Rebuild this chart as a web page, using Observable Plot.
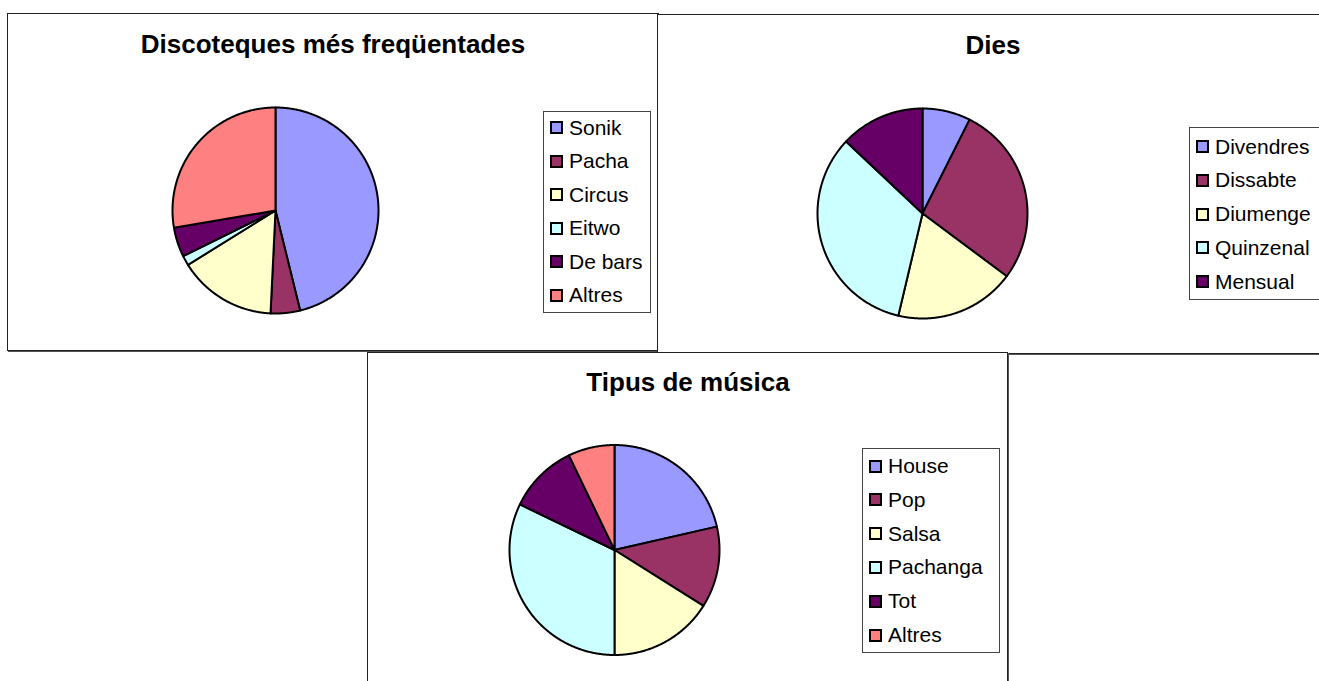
<!DOCTYPE html>
<html>
<head>
<meta charset="utf-8">
<script src="https://cdn.jsdelivr.net/npm/d3@7"></script>
<script src="https://cdn.jsdelivr.net/npm/@observablehq/plot@0.6"></script>
<style>
  html, body { margin: 0; padding: 0; background: #fff; width: 1319px; height: 681px; overflow: hidden; position: relative; }
  body { font-family: "Liberation Sans", Arial, sans-serif; }
  .box { position: absolute; background: #fff; border: 1px solid #222; box-shadow: 1px 1px 0 #555; }
  .box svg { position: absolute; left: 0; top: 0; }
  .title { position: absolute; font-weight: bold; font-size: 26px; line-height: 26px; white-space: nowrap; transform: translateX(-50%); color: #000; }
  .legend { position: absolute; border: 1px solid #444; background: #fff; }
  .row { position: absolute; left: 0; display: flex; align-items: center; font-size: 21px; white-space: nowrap; color: #000; }
  .sw { width: 9px; height: 9px; border: 2px solid #000; margin-left: 6px; margin-right: 6px; flex: none; }
</style>
</head>
<body>
<script>
// ---- data ----
const discoCats = ["Sonik", "Pacha", "Circus", "Eitwo", "De bars", "Altres"];
const discoVals = [30, 3, 10, 1, 3, 18];
const diesCats = ["Divendres", "Dissabte", "Diumenge", "Quinzenal", "Mensual"];
const diesVals = [4, 15, 10, 18, 7];
const musicaCats = ["House", "Pop", "Salsa", "Pachanga", "Tot", "Altres"];
const musicaVals = [12, 7, 9, 18, 6, 4];
const titles = ["Discoteques més freqüentades", "Dies", "Tipus de música"];
const palette = ["#9999FF", "#993366", "#FFFFCC", "#CCFFFF", "#660066", "#FF8080"];

// ---- layout ----
const charts = [
  { cats: discoCats, vals: discoVals, title: titles[0],
    box: { left: 7, top: 13, width: 650, height: 336 },
    pie: { cx: 267, cy: 196, r: 103 },
    titlePos: { x: 325, top: 16.5 },
    legend: { left: 535, top: 97, width: 106, height: 200, first: 15.7, step: 33.5 } },
  { cats: diesCats, vals: diesVals, title: titles[1],
    box: { left: 657, top: 14, width: 700, height: 338 },
    pie: { cx: 264, cy: 198, r: 105 },
    titlePos: { x: 335, top: 17 },
    legend: { left: 531, top: 112, width: 135, height: 171, first: 18.5, step: 33.75 } },
  { cats: musicaCats, vals: musicaVals, title: titles[2],
    box: { left: 367, top: 352, width: 639, height: 400 },
    pie: { cx: 246, cy: 196.5, r: 105 },
    titlePos: { x: 320, top: 16 },
    legend: { left: 494, top: 95, width: 136, height: 203, first: 17, step: 33.8 } }
];

function slicePoints(cats, vals) {
  const arcs = d3.pie().sort(null).value(d => d)(vals);
  const pts = [];
  arcs.forEach((a, i) => {
    const cat = cats[i];
    const n = Math.max(2, Math.ceil((a.endAngle - a.startAngle) / (Math.PI / 360)));
    pts.push({ cat, x: 0, y: 0 });
    for (let j = 0; j <= n; j++) {
      const t = a.startAngle + (a.endAngle - a.startAngle) * j / n;
      pts.push({ cat, x: Math.sin(t), y: Math.cos(t) });
    }
    pts.push({ cat, x: 0, y: 0 });
  });
  return pts;
}

charts.forEach(c => {
  const box = document.createElement("div");
  box.className = "box";
  Object.assign(box.style, {
    left: c.box.left + "px", top: c.box.top + "px",
    width: c.box.width + "px", height: c.box.height + "px"
  });
  document.body.appendChild(box);

  const { cx, cy, r } = c.pie;
  const colors = palette.slice(0, c.cats.length);
  const svg = Plot.plot({
    width: c.box.width,
    height: c.box.height,
    margin: 0,
    x: { domain: [-1, 1], range: [cx - r, cx + r], axis: null },
    y: { domain: [-1, 1], range: [cy + r, cy - r], axis: null },
    color: { type: "ordinal", domain: c.cats, range: colors },
    marks: [
      Plot.line(slicePoints(c.cats, c.vals), {
        x: "x", y: "y", z: "cat", fill: "cat",
        stroke: "black", strokeWidth: 2, strokeLinejoin: "round", curve: "linear"
      })
    ]
  });
  box.appendChild(svg);

  const t = document.createElement("div");
  t.className = "title";
  t.textContent = c.title;
  t.style.left = c.titlePos.x + "px";
  t.style.top = c.titlePos.top + "px";
  box.appendChild(t);

  const lg = document.createElement("div");
  lg.className = "legend";
  Object.assign(lg.style, {
    left: c.legend.left + "px", top: c.legend.top + "px",
    width: c.legend.width + "px", height: c.legend.height + "px"
  });
  c.cats.forEach((cat, i) => {
    const row = document.createElement("div");
    row.className = "row";
    const center = c.legend.first + i * c.legend.step;
    row.style.top = (center - 12) + "px";
    row.style.height = "24px";
    const sw = document.createElement("div");
    sw.className = "sw";
    sw.style.background = colors[i];
    const lab = document.createElement("span");
    lab.textContent = cat;
    row.appendChild(sw);
    row.appendChild(lab);
    lg.appendChild(row);
  });
  box.appendChild(lg);
});
</script>
</body>
</html>
